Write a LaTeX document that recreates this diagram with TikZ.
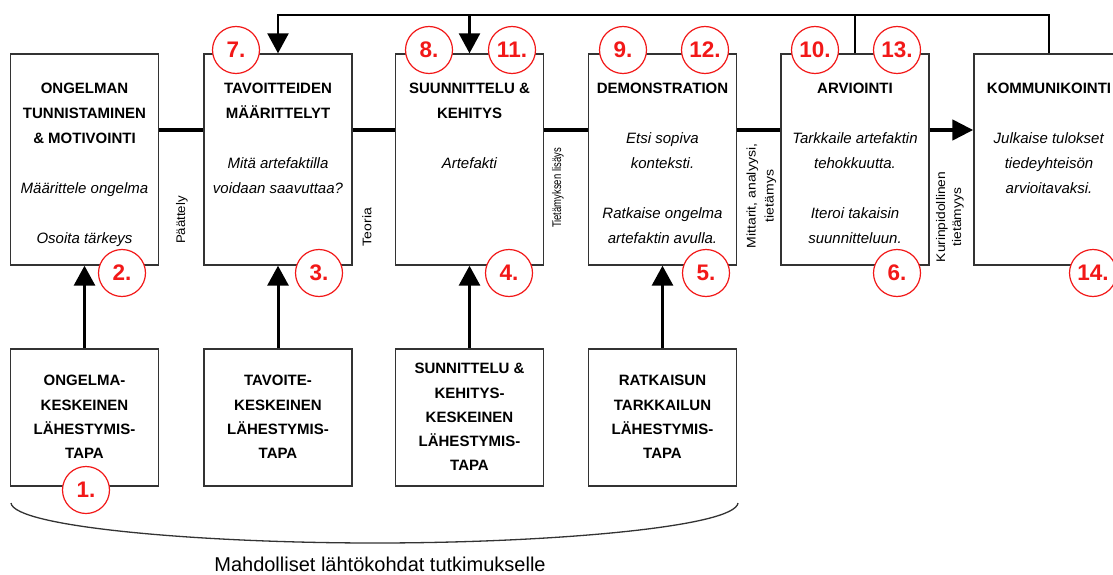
\documentclass[tikz,border=0pt]{standalone}
\usepackage{fontspec}
\usepackage{graphicx}
\setmainfont{Liberation Sans}
\usetikzlibrary{arrows.meta}

\definecolor{boxline}{HTML}{333333}
\definecolor{numred}{HTML}{F21818}

\tikzset{
  stage/.style={draw=boxline, line width=1.4pt, minimum width=148pt,
    minimum height=211pt, inner sep=0pt},
  approach/.style={draw=boxline, line width=1.4pt, minimum width=148pt,
    minimum height=137pt, inner sep=0pt,
    font=\fontsize{15}{24.3}\selectfont\bfseries},
  stagetext/.style={anchor=base, inner sep=0pt,
    font=\fontsize{15}{25}\selectfont},
  num/.style={circle, draw=numred, fill=white, line width=1.2pt,
    minimum size=47pt, inner sep=0pt, text=numred,
    font=\fontsize{22.5}{22.5}\selectfont\bfseries},
  vlabel/.style={rotate=90, inner sep=0pt},
  flow/.style={line width=4.5pt},
  uparrow/.style={line width=3pt, -{Triangle[length=20pt,width=21pt]}},
  feedback/.style={line width=2.5pt, line join=miter},
  feedtip/.style={feedback, -{Triangle[length=20pt,width=21pt]}},
  startbrace/.style={draw=boxline, line width=1.3pt},
}

\begin{document}
\begin{tikzpicture}[x=1pt, y=-1pt]
\useasboundingbox (0,0) rectangle (1113,575);

% process stages
\node[stage] (A) at (84.5,159.5) {};
\node[stage] (B) at (278,159.5) {};
\node[stage] (C) at (469.5,159.5) {};
\node[stage] (D) at (662.5,159.5) {};
\node[stage] (E) at (855,159.5) {};
\node[stage, minimum width=150pt] (F) at (1049,159.5) {};

% stage texts
\node[stagetext] (tA) at (84.5,94) {\begin{tabular}[t]{@{}c@{}}
  \textbf{ONGELMAN}\\ \textbf{TUNNISTAMINEN}\\ \textbf{\& MOTIVOINTI}\\ \\
  \textit{Määrittele ongelma}\\ \\ \textit{Osoita tärkeys}\end{tabular}};
\node[stagetext] (tB) at (278,94) {\begin{tabular}[t]{@{}c@{}}
  \textbf{TAVOITTEIDEN}\\ \textbf{MÄÄRITTELYT}\\ \\
  \textit{Mitä artefaktilla}\\ \textit{voidaan saavuttaa?}\end{tabular}};
\node[stagetext] (tC) at (469.5,94) {\begin{tabular}[t]{@{}c@{}}
  \textbf{SUUNNITTELU \&}\\ \textbf{KEHITYS}\\ \\
  \textit{Artefakti}\end{tabular}};
\node[stagetext] (tD) at (662.5,94) {\begin{tabular}[t]{@{}c@{}}
  \textbf{DEMONSTRATION}\\ \\
  \textit{Etsi sopiva}\\ \textit{konteksti.}\\ \\
  \textit{Ratkaise ongelma}\\ \textit{artefaktin avulla.}\end{tabular}};
\node[stagetext] (tE) at (855,94) {\begin{tabular}[t]{@{}c@{}}
  \textbf{ARVIOINTI}\\ \\
  \textit{Tarkkaile artefaktin}\\ \textit{tehokkuutta.}\\ \\
  \textit{Iteroi takaisin}\\ \textit{suunnitteluun.}\end{tabular}};
\node[stagetext] (tF) at (1049,94) {\begin{tabular}[t]{@{}c@{}}
  \textbf{KOMMUNIKOINTI}\\ \\
  \textit{Julkaise tulokset}\\ \textit{tiedeyhteisön}\\
  \textit{arvioitavaksi.}\end{tabular}};

% entry points
\node[approach] (a) at (84.5,417.5) {\begin{tabular}{@{}c@{}}
  ONGELMA-\\ KESKEINEN\\ LÄHESTYMIS-\\ TAPA\end{tabular}};
\node[approach] (b) at (278,417.5) {\begin{tabular}{@{}c@{}}
  TAVOITE-\\ KESKEINEN\\ LÄHESTYMIS-\\ TAPA\end{tabular}};
\node[approach] (c) at (469.5,417.5) {\begin{tabular}{@{}c@{}}
  SUNNITTELU \&\\ KEHITYS-\\ KESKEINEN\\ LÄHESTYMIS-\\ TAPA\end{tabular}};
\node[approach] (d) at (662.5,417.5) {\begin{tabular}{@{}c@{}}
  RATKAISUN\\ TARKKAILUN\\ LÄHESTYMIS-\\ TAPA\end{tabular}};

% main flow between the stages
\coordinate (h) at (0,130);
\draw[flow] (A.east |- h) -- (B.west |- h);
\draw[flow] (B.east |- h) -- (C.west |- h);
\draw[flow] (C.east |- h) -- (D.west |- h);
\draw[flow] (D.east |- h) -- (E.west |- h);
\draw[flow, -{Triangle[length=21pt,width=20pt]}] (E.east |- h) -- (F.west |- h);

% entry arrows
\draw[uparrow] (a.north) -- (A.south);
\draw[uparrow] (b.north) -- (B.south);
\draw[uparrow] (c.north) -- (C.south);
\draw[uparrow] (d.north) -- (D.south);

% iteration loop over the top
\coordinate (top) at (0,15);
\draw[feedtip] (F.north) -- (F.north |- top) -- (B.north |- top) -- (B.north);
\draw[feedback] (E.north) -- (E.north |- top);
\draw[feedtip] (C.north |- top) -- (C.north);

% labels of the flow
\node[vlabel, font=\fontsize{12.5}{15}\selectfont] (l1) at (182,220)
  {\scalebox{1.06}[1]{Päättely}};
\node[vlabel, font=\fontsize{12.5}{15}\selectfont] (l2) at (367,227)
  {\scalebox{1.12}[1]{Teoria}};
\node[vlabel, font=\fontsize{12.5}{15}\selectfont] (l3) at (558,188)
  {\scalebox{0.76}[1]{Tietämyksen lisäys}};
\node[vlabel, font=\fontsize{12.5}{18}\selectfont] (l4) at (761,196)
  {\scalebox{1.12}[1]{\begin{tabular}{@{}c@{}}Mittarit, analyysi,\\ tietämys\end{tabular}}};
\node[vlabel, font=\fontsize{12.5}{16}\selectfont] (l5) at (950,217)
  {\scalebox{1.1}[1]{\begin{tabular}{@{}c@{}}Kurinpidollinen\\ tietämyys\end{tabular}}};

% step numbers
\node[num] (n1) at (86,490) {1.};
\node[num] (n2) at (122,273) {2.};
\node[num] (n3) at (319,273) {3.};
\node[num] (n4) at (509,273) {4.};
\node[num] (n5) at (706,273) {5.};
\node[num] (n6) at (897,273) {6.};
\node[num] (n7) at (236,50) {7.};
\node[num] (n8) at (429,50) {8.};
\node[num] (n9) at (623,50) {9.};
\node[num] (n10) at (815,50) {10.};
\node[num] (n11) at (512,50) {11.};
\node[num] (n12) at (705,50) {12.};
\node[num] (n13) at (897,50) {13.};
\node[num] (n14) at (1093,273) {14.};

% bracket under the entry points
\coordinate (bl) at (11,503);
\coordinate (br) at (738,503);
\draw[startbrace] (bl) .. controls (14,527) and (200,543) .. (375,543)
  .. controls (550,543) and (735,527) .. (br);
\node[font=\fontsize{20}{24}\selectfont, inner sep=0pt] (cap) at (380,564)
  {Mahdolliset lähtökohdat tutkimukselle};
\end{tikzpicture}
\end{document}
